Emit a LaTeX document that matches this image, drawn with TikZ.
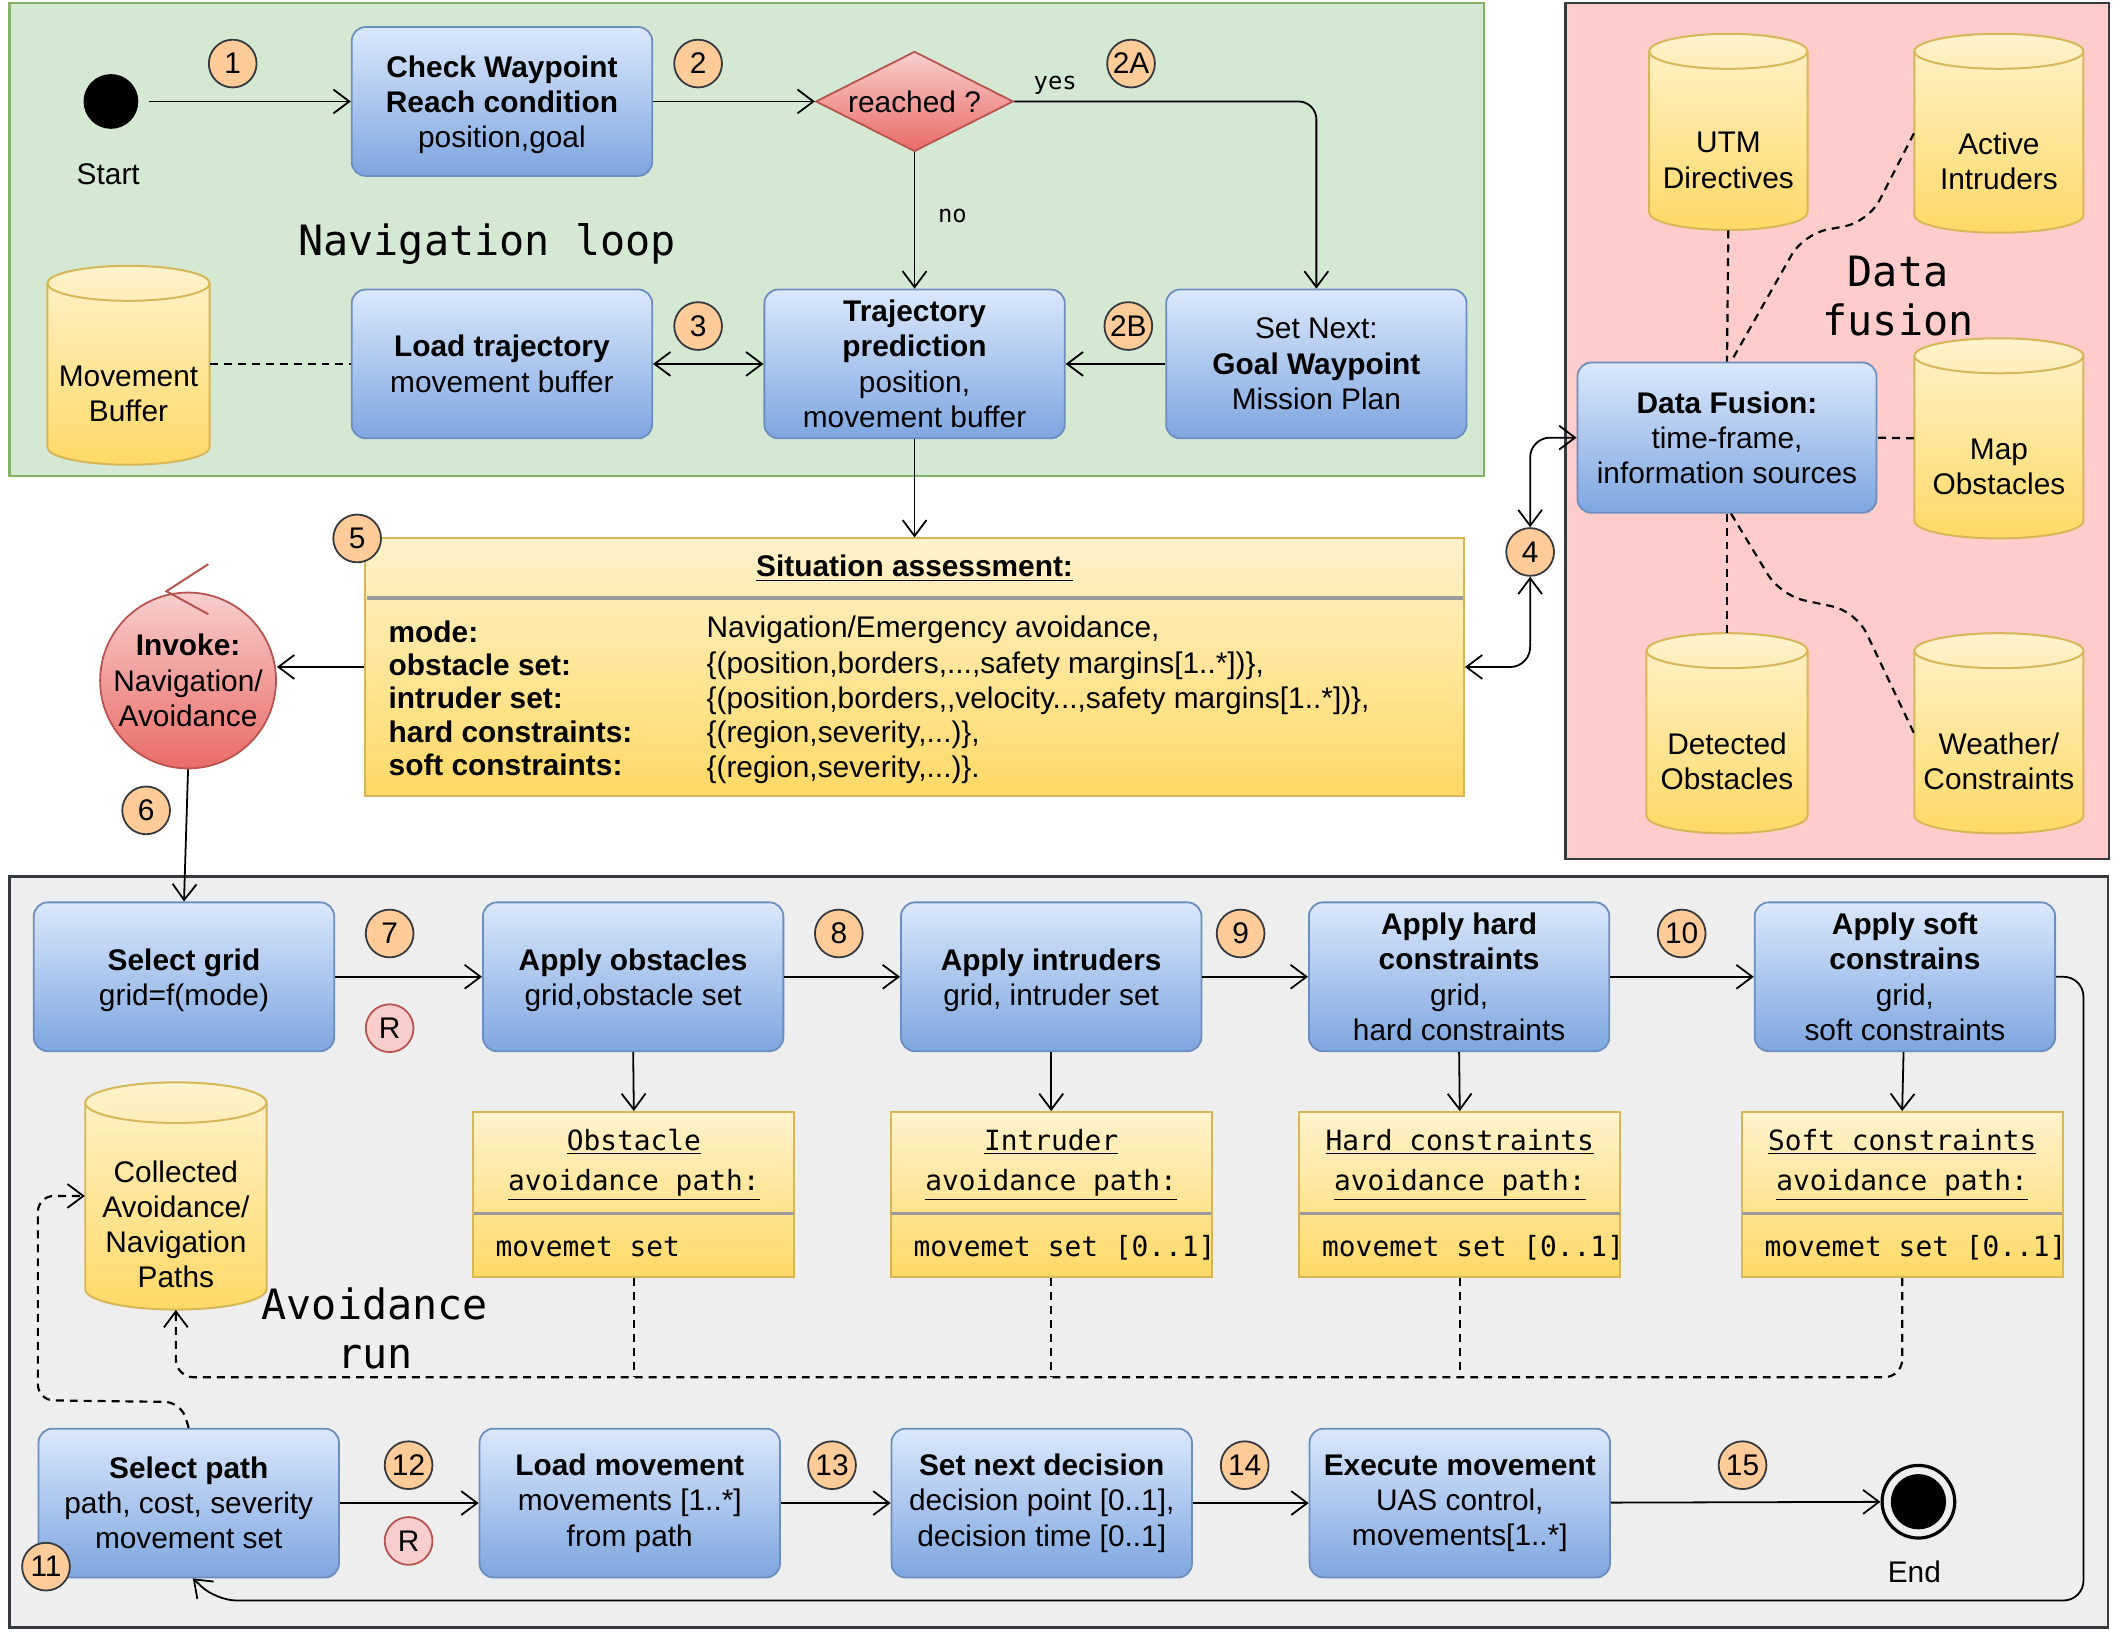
\documentclass[tikz,border=0pt]{standalone}
\usepackage{fontspec}
\setmainfont{Liberation Sans}
\setmonofont{DejaVu Sans Mono}
\usetikzlibrary{arrows.meta,shapes.geometric,calc}
\definecolor{gfill}{HTML}{D5E8D4}
\definecolor{gstroke}{HTML}{82B366}
\definecolor{pinkbg}{HTML}{FFCCCC}
\definecolor{grayfill}{HTML}{EEEEEE}
\definecolor{darkstroke}{HTML}{36393D}
\definecolor{bluetop}{HTML}{DAE8FC}
\definecolor{bluebot}{HTML}{7EA6E0}
\definecolor{bluestroke}{HTML}{6C8EBF}
\definecolor{yeltop}{HTML}{FFF2CC}
\definecolor{yelbot}{HTML}{FFD966}
\definecolor{yelstroke}{HTML}{D6B656}
\definecolor{redtop}{HTML}{F8CECC}
\definecolor{redbot}{HTML}{EA6B66}
\definecolor{redstroke}{HTML}{B85450}
\definecolor{badgefill}{HTML}{FFCC99}
\definecolor{sepgray}{HTML}{9A9A9A}
\tikzset{
  base/.style={font=\fontsize{15}{17.7}\selectfont, align=center, inner sep=0pt},
  bluebox/.style={base, rectangle, rounded corners=7pt, draw=bluestroke, line width=0.9pt,
    top color=bluetop, bottom color=bluebot, minimum width=151pt, minimum height=74.8pt},
  lowtext/.style={text depth=0pt},
  yelclass/.style={rectangle, draw=yelstroke, line width=1pt, top color=yeltop, bottom color=yelbot,
    minimum width=161.2pt, minimum height=83pt, inner sep=0pt},
  badge/.style={circle, draw=darkstroke, line width=0.9pt, fill=badgefill, minimum size=24pt,
    inner sep=0pt, font=\fontsize{15}{17}\selectfont},
  rbadge/.style={badge, fill=redtop, draw=redstroke},
  tip/.style={-{Straight Barb[length=8pt,width=12pt,line width=0.9pt]}},
  arr/.style={draw, line width=0.9pt, tip},
  arrtwo/.style={draw, line width=0.9pt, {Straight Barb[length=8pt,width=12pt,line width=0.9pt]}-{Straight Barb[length=8pt,width=12pt,line width=0.9pt]}},
  dl/.style={draw, line width=1.1pt, dash pattern=on 4pt off 3pt},
  bigmono/.style={font=\ttfamily\fontsize{21}{24.5}\selectfont, align=center, inner sep=0pt},
  pathtitle/.style={font=\ttfamily\fontsize{14}{20.4}\selectfont, align=center, inner sep=0pt},
  pathbody/.style={font=\ttfamily\fontsize{14}{17}\selectfont, anchor=west, inner sep=0pt},
  edgelbl/.style={font=\ttfamily\fontsize{12}{14}\selectfont, inner sep=0pt},
}
\newcommand{\dbcyl}[7]{%
  \node[minimum width=#4, minimum height=#5, inner sep=0pt] (#1) at (#2,#3) {};
  \begin{scope}[shift={(#2,#3)}]
    \path[draw=yelstroke, line width=1pt, top color=yeltop, bottom color=yelbot]
      ({-#4/2},{#5/2-#6}) -- ({-#4/2},{-#5/2+#6})
      arc[start angle=180, end angle=360, x radius={#4/2}, y radius=#6]
      -- ({#4/2},{#5/2-#6})
      arc[start angle=0, end angle=180, x radius={#4/2}, y radius=#6] -- cycle;
    \draw[yelstroke, line width=1pt] ({-#4/2},{#5/2-#6})
      arc[start angle=180, end angle=360, x radius={#4/2}, y radius=#6];
  \end{scope}
  \node[base] (#1-t) at ($(#1.center)+(0,21)$) {#7};
}
\begin{document}
\begin{tikzpicture}[x=0.68pt, y=-0.68pt]
\useasboundingbox (0,0) rectangle (1567,1211);
% regions
\draw[fill=gfill, draw=gstroke, line width=1.2pt] (7,2) rectangle (1097,352);
\draw[fill=pinkbg, draw=darkstroke, line width=1.2pt] (1157,2) rectangle (1559,635);
\draw[fill=grayfill, draw=darkstroke, line width=1.2pt] (7,648) rectangle (1558,1203);

% ---------- navigation loop ----------
\node[circle, fill=black, minimum size=27.5pt, inner sep=0pt] (start) at (82,75) {};
\node[base] (startl) at (80,129) {Start};
\node[bluebox, lowtext] (check) at (371,75) {\textbf{Check Waypoint}\\\textbf{Reach condition}\\position,goal};
\node[diamond, aspect=2, minimum width=99.3pt, minimum height=50.3pt, inner sep=0pt,
  draw=redstroke, line width=0.9pt, top color=redtop, bottom color=redbot,
  font=\fontsize{15}{17.7}\selectfont] (reached) at (676,75) {reached ?};
\node[bluebox] (load) at (371,269) {\textbf{Load trajectory}\\movement buffer};
\node[bluebox] (traj) at (676,269) {\textbf{Trajectory}\\\textbf{prediction}\\position,\\movement buffer};
\node[bluebox] (setnext) at (973,269) {Set Next:\\\textbf{Goal Waypoint}\\Mission Plan};
\dbcyl{mbuf}{95}{270}{81.6pt}{100pt}{8.8pt}{Movement\\Buffer}
\node[bigmono] (navl) at (360,180) {Navigation loop};

\node[badge] (b1) at (172,47) {1};
\node[badge] (b2) at (516,47) {2};
\node[badge] (b2a) at (836,47) {2A};
\node[badge] (b3) at (516,241) {3};
\node[badge] (b2b) at (834,241) {2B};

\draw[arr, shorten <=5pt] (start) -- (check);
\draw[arr] (check) -- (reached);
\draw[arr, rounded corners=9pt] (reached.east) -| (setnext.north);
\node[edgelbl] (yesl) at (780,63) {yes};
\draw[arr] (reached.south) -- (traj.north);
\node[edgelbl] (nol) at (704,160) {no};
\draw[arrtwo] (load) -- (traj);
\draw[arr] (setnext) -- (traj);
\draw[dl] (mbuf.east |- load.west) -- (load.west);

% ---------- situation assessment ----------
\node[yelclass, minimum width=552.2pt, minimum height=129.2pt] (sit) at (676,493) {};
\draw[sepgray, line width=1.6pt] (271,442) -- (1081,442);
\node[base, font=\bfseries\fontsize{15}{17.7}\selectfont] (sitt) at (676,420) {\underline{Situation assessment:}};
\begin{scope}[every node/.style={font=\fontsize{15}{17.7}\selectfont, anchor=base west, inner sep=0pt}]
\node (l1) at (287,475) {\textbf{mode:}};
\node (l2) at (287,499) {\textbf{obstacle set:}};
\node (l3) at (287,524) {\textbf{intruder set:}};
\node (l4) at (287,549) {\textbf{hard constraints:}};
\node (l5) at (287,573) {\textbf{soft constraints:}};
\node (v1) at (522,471.5) {Navigation/Emergency avoidance,};
\node (v2) at (522,497.5) {\{(position,borders,...,safety margins[1..*])\},};
\node (v3) at (522,523.5) {\{(position,borders,{},velocity...,safety margins[1..*])\},};
\node (v4) at (522,548.5) {\{(region,severity,...)\},};
\node (v5) at (522,574.5) {\{(region,severity,...)\}.};
\end{scope}
\node[badge] (b5) at (264,398) {5};
\draw[arr] (traj.south) -- (sit.north);

% invoke
\node[circle, minimum size=88.4pt, inner sep=0pt, draw=redstroke, line width=0.9pt,
  top color=redtop, bottom color=redbot, base] (invoke) at (139,503)
  {\textbf{Invoke:}\\Navigation/\\Avoidance};
\draw[redstroke, line width=1pt] (154,417) -- (123,437) -- (154,454);
\draw[arr] (sit.west |- 0,493) -- (invoke.east |- 0,493);
\node[badge] (b6) at (108,599) {6};

% ---------- data fusion ----------
\dbcyl{utm}{1277.5}{97.5}{79.6pt}{98.6pt}{8.8pt}{UTM\\Directives}
\dbcyl{active}{1477.5}{98.5}{85pt}{100pt}{8.8pt}{Active\\Intruders}
\dbcyl{mapo}{1477.5}{324}{85pt}{100.6pt}{8.8pt}{Map\\Obstacles}
\dbcyl{detected}{1276.5}{542}{81pt}{100.6pt}{8.8pt}{Detected\\Obstacles}
\dbcyl{weather}{1477.5}{542}{85pt}{100.6pt}{8.8pt}{Weather/\\Constraints}
\node[bluebox, minimum width=150.3pt, minimum height=75.5pt] (fusion) at (1276.5,323.5)
  {\textbf{Data Fusion:}\\time-frame,\\information sources};
\node[bigmono] (dfl) at (1403,219) {Data\\fusion};
\draw[dl] (utm.south) -- (fusion.north);
\draw[dl, rounded corners=12pt] (active.west) -- (1381,164) -- (1333,173) -- ($(fusion.north)+(3,0)$);
\draw[dl] (mapo.west) -- (fusion.east);
\draw[dl] (fusion.south) -- (detected.north);
\draw[dl, rounded corners=12pt] ($(fusion.south)+(3,0)$) -- (1316,440) -- (1372,452) -- (weather.west);
\node[badge] (b4) at (1131,408) {4};
\draw[arrtwo, rounded corners=10pt] (sit.east |- 0,493) -| (b4.south);
\draw[arrtwo, rounded corners=10pt] (b4.north) |- (fusion.west);

% ---------- avoidance run ----------
\node[bluebox, lowtext] (selgrid) at (136,722) {\textbf{Select grid}\\grid=f(mode)};
\node[bluebox, lowtext] (appobs) at (468,722) {\textbf{Apply obstacles}\\grid,obstacle set};
\node[bluebox, lowtext] (appint) at (777,722) {\textbf{Apply intruders}\\grid, intruder set};
\node[bluebox] (apphard) at (1078.5,722) {\textbf{Apply hard}\\\textbf{constraints}\\grid,\\hard constraints};
\node[bluebox] (appsoft) at (1408,722) {\textbf{Apply soft}\\\textbf{constrains}\\grid,\\soft constraints};
\node[badge] (b7) at (288,690) {7};
\node[rbadge] (r1) at (288,760) {R};
\node[badge] (b8) at (620,690) {8};
\node[badge] (b9) at (917,690) {9};
\node[badge] (b10) at (1243,690) {10};
\draw[arr] (invoke.south) -- (selgrid.north);
\draw[arr] (selgrid) -- (appobs);
\draw[arr] (appobs) -- (appint);
\draw[arr] (appint) -- (apphard);
\draw[arr] (apphard) -- (appsoft);

\node[yelclass] (obsp) at (468.5,883) {};
\node[yelclass] (intp) at (777,883) {};
\node[yelclass] (hardp) at (1079,883) {};
\node[yelclass] (softp) at (1406,883) {};
\foreach \n in {obsp, intp, hardp, softp}{
  \draw[sepgray, line width=1.4pt] ($(\n.west)+(1,14)$) -- ($(\n.east)+(-1,14)$);
}
\node[pathtitle] (obst) at (468.5,861) {\underline{Obstacle}\\\underline{avoidance path:}};
\node[pathtitle] (intt) at (777,861) {\underline{Intruder}\\\underline{avoidance path:}};
\node[pathtitle] (hardt) at (1079,861) {\underline{Hard constraints}\\\underline{avoidance path:}};
\node[pathtitle] (softt) at (1406,861) {\underline{Soft constraints}\\\underline{avoidance path:}};
\node[pathbody] (obsb) at (366,922) {movemet set};
\node[pathbody] (intb) at (675,922) {movemet set [0..1]};
\node[pathbody] (hardb) at (977,922) {movemet set [0..1]};
\node[pathbody] (softb) at (1304,922) {movemet set [0..1]};
\draw[arr] (appobs.south) -- (obsp.north);
\draw[arr] (appint.south) -- (intp.north);
\draw[arr] (apphard.south) -- (hardp.north);
\draw[arr] ($(appsoft.south)+(-1,0)$) -- (softp.north);

\dbcyl{coll}{130}{884}{91.1pt}{114.2pt}{10.2pt}{Collected\\Avoidance/\\Navigation\\Paths}
\node[bigmono] (avl) at (277,982) {Avoidance\\run};
\draw[dl, tip, rounded corners=9pt] (softp.south) |- (130,1018) -- (coll.south);
\draw[dl] (obsp.south) -- (obsp.south |- 0,1018);
\draw[dl] (intp.south) -- (intp.south |- 0,1018);
\draw[dl] (hardp.south) -- (hardp.south |- 0,1018);

\node[bluebox] (selpath) at (139.5,1111) {\textbf{Select path}\\path, cost, severity\\movement set};
\node[bluebox] (loadmv) at (465.5,1111) {\textbf{Load movement}\\movements [1..*]\\from path};
\node[bluebox] (setdec) at (770,1111) {\textbf{Set next decision}\\decision point [0..1],\\decision time [0..1]};
\node[bluebox] (exec) at (1079,1111) {\textbf{Execute movement}\\UAS control,\\movements[1..*]};
\node[circle, draw=black, line width=1.6pt, minimum size=36.5pt, inner sep=0pt] (endn) at (1418,1110) {};
\fill[black] (endn.center) circle (13.9pt);
\node[base] (endl) at (1415,1162) {End};
\node[badge] (b11) at (34,1158) {11};
\node[badge] (b12) at (302,1083) {12};
\node[rbadge] (r2) at (302,1139) {R};
\node[badge] (b13) at (615,1083) {13};
\node[badge] (b14) at (920,1083) {14};
\node[badge] (b15) at (1288,1083) {15};
\draw[arr] (selpath) -- (loadmv);
\draw[arr] (loadmv) -- (setdec);
\draw[arr] (setdec) -- (exec);
\draw[arr] (exec) -- (endn);
\draw[dl, tip, rounded corners=8pt] (selpath.north) -- ++(-6,-19) -- (28,1035) |- (coll.west);
\draw[arr, rounded corners=10pt] (appsoft.east) -| (1540,1183) -- (160,1183) -- ($(selpath.south)+(3,0)$);
\end{tikzpicture}
\end{document}
